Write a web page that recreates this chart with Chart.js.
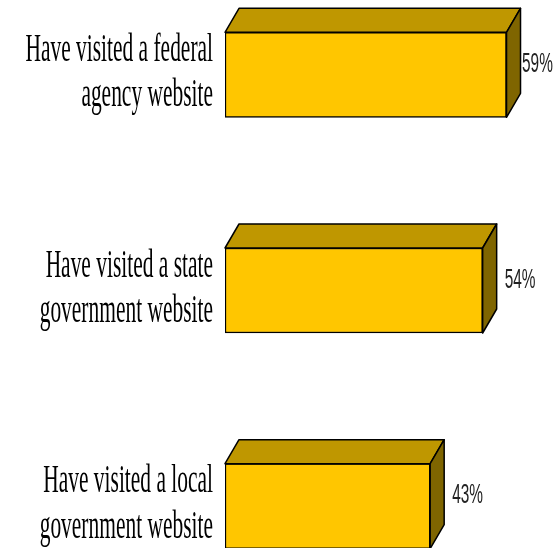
<!DOCTYPE html>
<html>
<head>
<meta charset="utf-8">
<script src="https://cdn.jsdelivr.net/npm/chart.js@4"></script>
<style>
  html, body { margin: 0; padding: 0; background: #fff; overflow: hidden; width: 560px; height: 548px; }
  #wrap { position: absolute; left: 0; top: -33px; width: 560px; height: 647px; }
</style>
</head>
<body>
<div id="wrap"><canvas id="chart"></canvas></div>
<script>
// Data
const categories = [
    ['Have visited a federal', 'agency website'],
    ['Have visited a state', 'government website'],
    ['Have visited a local', 'government website']
];
const values = [59, 54, 43];
const valueLabels = ['59%', '54%', '43%'];

// Draw the 3D sides of each bar (top + right face)
const boxPlugin = {
    id: 'box3d',
    afterDatasetsDraw(chart) {
        const ctx = chart.ctx;
        const dx = 14, dy = -24;
        chart.getDatasetMeta(0).data.forEach(bar => {
            const left = bar.base, right = bar.x;
            const top = bar.y - bar.height / 2, bottom = bar.y + bar.height / 2;
            ctx.save();
            ctx.lineWidth = 1.5;
            ctx.strokeStyle = '#000';
            ctx.lineJoin = 'round';
            // top face
            ctx.beginPath();
            ctx.moveTo(left, top);
            ctx.lineTo(left + dx, top + dy);
            ctx.lineTo(right + dx, top + dy);
            ctx.lineTo(right, top);
            ctx.closePath();
            ctx.fillStyle = '#bf9700';
            ctx.fill();
            ctx.stroke();
            // right face
            ctx.beginPath();
            ctx.moveTo(right, top);
            ctx.lineTo(right + dx, top + dy);
            ctx.lineTo(right + dx, bottom + dy);
            ctx.lineTo(right, bottom);
            ctx.closePath();
            ctx.fillStyle = '#7f6500';
            ctx.fill();
            ctx.stroke();
            ctx.restore();
        });
    }
};

// Category text and value labels, squeezed sideways like the original
const labelPlugin = {
    id: 'labels',
    afterDraw(chart) {
        const ctx = chart.ctx;
        const yScale = chart.scales.y;
        const xScale = chart.scales.x;
        const area = chart.chartArea;
        const squeeze = 0.55;
        categories.forEach((lines, i) => {
            const y = yScale.getPixelForValue(i);
            ctx.save();
            ctx.fillStyle = '#000';
            ctx.font = '39px "Liberation Serif", "Times New Roman", serif';
            ctx.textAlign = 'right';
            ctx.textBaseline = 'alphabetic';
            ctx.translate(213, y);
            ctx.scale(squeeze, 1);
            ctx.fillText(lines[0], 0, -14);
            ctx.fillText(lines[1], 0, 31.5);
            ctx.restore();

            const x = Math.min(xScale.getPixelForValue(values[i]) + 22, area.right - 37);
            ctx.save();
            ctx.fillStyle = '#222';
            ctx.font = '28px "Liberation Sans", Arial, sans-serif';
            ctx.textAlign = 'left';
            ctx.textBaseline = 'alphabetic';
            ctx.translate(x, y);
            ctx.scale(squeeze, 1);
            ctx.fillText(valueLabels[i], 0, -3);
            ctx.restore();
        });
    }
};

document.addEventListener('DOMContentLoaded', function() {
    const ctx = document.getElementById('chart').getContext('2d');
    new Chart(ctx, {
        type: 'bar',
        data: {
            labels: categories,
            datasets: [{
                data: values,
                backgroundColor: '#ffc600',
                borderColor: '#000',
                borderWidth: 1.5,
                borderSkipped: false,
                barThickness: 85
            }]
        },
        options: {
            indexAxis: 'y',
            responsive: true,
            maintainAspectRatio: false,
            animation: false,
            layout: { padding: { left: 225, right: 1, top: 0, bottom: 0 } },
            scales: {
                x: { display: false, min: 0, max: 70 },
                y: { display: false }
            },
            plugins: {
                legend: { display: false },
                tooltip: { enabled: false }
            }
        },
        plugins: [boxPlugin, labelPlugin]
    });
});
</script>
</body>
</html>
